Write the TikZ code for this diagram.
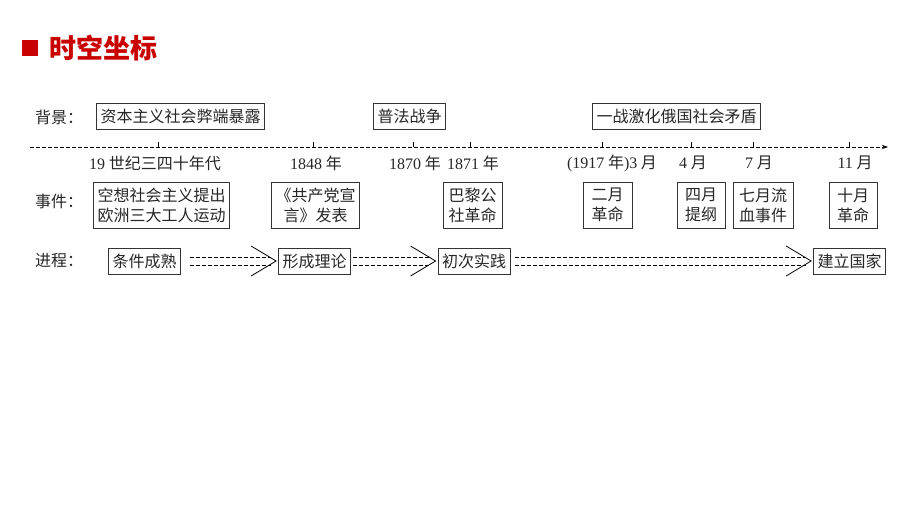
\documentclass[tikz,border=0pt]{standalone}
\usepackage{fontspec}
\setmainfont{Noto Sans CJK SC}
\newfontfamily\latin{Liberation Serif}
\usetikzlibrary{arrows.meta}
\definecolor{titlered}{RGB}{200,0,0}

\begin{document}
\begin{tikzpicture}[x=1pt, y=-1pt, font=\fontsize{16}{20}\selectfont, text=black!85,
	box/.style={draw=black!80, line width=0.8pt, inner xsep=4pt, inner ysep=0pt, minimum height=26pt},
	event box/.style={box, align=center, minimum height=46pt, minimum width=#1},
	event box/.default=48pt,
	row label/.style={anchor=west, inner sep=0pt},
	date/.style={inner sep=0pt}]
	\useasboundingbox (0,0) rectangle (920,518);
	% title
	\node[fill=titlered, minimum size=16pt, inner sep=0pt] (mark) at (30,48) {};
	\node[anchor=west, inner sep=0pt, text=titlered, font=\fontsize{27}{30}\selectfont\bfseries] (title) at (49,48) {时空坐标};
	% row labels
	\node[row label] (L1) at (35,117) {背景：};
	\node[row label] (L2) at (35,201) {事件：};
	\node[row label] (L3) at (35,261) {进程：};
	% background
	\node[box] (bg1) at (180.5,116) {资本主义社会弊端暴露};
	\node[box] (bg2) at (409.5,116) {普法战争};
	\node[box] (bg3) at (676.5,116) {一战激化俄国社会矛盾};
	% time axis
	\coordinate (axis start) at (30,147);
	\coordinate (axis end) at (888,147);
	\draw[line width=0.7pt, dash pattern=on 4pt off 2pt, -{Stealth[length=6pt, width=4pt]}] (axis start) -- (axis end);
	\foreach \x in {158,313,413,470,602,691,753,849}
		\draw[line width=0.7pt] (\x,147) -- (\x,142.5);
	\node[date] (D1) at (155,163) {{\latin 19} 世纪三四十年代};
	\node[date] (D2) at (316,163) {{\latin 1848} 年};
	\node[date] (D3) at (415,163) {{\latin 1870} 年};
	\node[date] (D4) at (473,163) {{\latin 1871} 年};
	\node[date] (D5) at (612,163) {{\latin (1917} 年{\latin )3} 月};
	\node[date] (D6) at (693,163) {{\latin 4} 月};
	\node[date] (D7) at (759,163) {{\latin 7} 月};
	\node[date] (D8) at (855,163) {{\latin 11} 月};
	% events
	\node[event box=135pt] (ev1) at (161.5,205) {空想社会主义提出\\欧洲三大工人运动};
	\node[event box=81pt] (ev2) at (315.5,205) {《共产党宣\\言》发表};
	\node[event box=59pt] (ev3) at (472.5,205) {巴黎公\\社革命};
	\node[event box=49pt] (ev4) at (607.5,205) {二月\\革命};
	\node[event box] (ev5) at (701,205) {四月\\提纲};
	\node[event box=60pt] (ev6) at (763,205) {七月流\\血事件};
	\node[event box] (ev7) at (853,205) {十月\\革命};
	% process
	\node[box] (pr1) at (144.5,261) {条件成熟};
	\node[box] (pr2) at (314.5,261) {形成理论};
	\node[box] (pr3) at (474,261) {初次实践};
	\node[box] (pr4) at (849.5,261) {建立国家};
	\foreach \a/\b/\s in {pr1/pr2/9, pr2/pr3/2, pr3/pr4/5} {
		\draw[line width=0.7pt, dash pattern=on 4pt off 2pt] ([xshift=\s pt, yshift=4pt]\a.east) -- ([xshift=-7pt, yshift=4pt]\b.west);
		\draw[line width=0.7pt, dash pattern=on 4pt off 2pt] ([xshift=\s pt, yshift=-4pt]\a.east) -- ([xshift=-7pt, yshift=-4pt]\b.west);
		\draw[line width=0.8pt] ([xshift=-27pt, yshift=15pt]\b.west) -- ([xshift=-2pt]\b.west) -- ([xshift=-27pt, yshift=-15pt]\b.west);
	}
\end{tikzpicture}
\end{document}
